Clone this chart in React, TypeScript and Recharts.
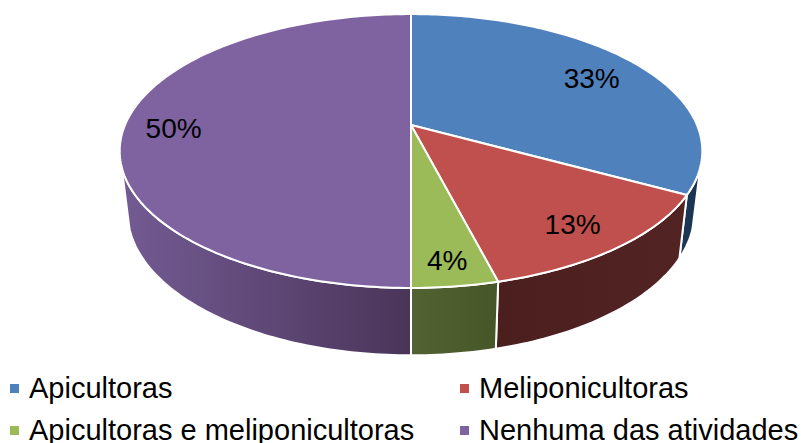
import { PieChart, Pie, Legend } from 'recharts';

const categories = ['Apicultoras', 'Meliponicultoras', 'Apicultoras e meliponicultoras', 'Nenhuma das atividades'];
const values = [33, 13, 4, 50];
const topColors = ['#4f81bd', '#c0504d', '#9bbb59', '#7f62a0'];
const wallColors = [
  ['#1e3757', '#1b3350'],
  ['#4c1f1f', '#522323'],
  ['#526232', '#465628'],
  ['#735b93', '#4a3559'],
];
// How far along its radius each percentage sits
const labelReach = [0.79, 0.81, 0.85, 0.83];

const rows = categories.map((name, i) => ({ name, value: values[i], fill: topColors[i], index: i }));

// Tilted-disc projection: unit circle point -> screen offset from the pie centre
const TILT = 0.19;
const SQUASH = 132 / 286;
const WALL_SCALE = 0.973;
const WALL_DROP = 60;
const WALL_SQUASH = 138 / 286;
// The side wall only shows on the near half of the rim
const WALL_FROM = 107.5;
const WALL_TO = 252.5;

const project = (deg: number, f: number, cx: number, cy: number, r: number) => {
  const t = (deg * Math.PI) / 180;
  const X = Math.sin(t) * f;
  const Y = -Math.cos(t) * f;
  const d = 1 - TILT * Y;
  return { x: cx + (r * X) / d, y: cy + (r * SQUASH * Y) / d };
};

const projectBase = (deg: number, cx: number, cy: number, r: number) => {
  const t = (deg * Math.PI) / 180;
  const X = Math.sin(t);
  const Y = -Math.cos(t);
  const d = 1 - TILT * Y;
  return { x: cx + (r * WALL_SCALE * X) / d, y: cy + WALL_DROP + (r * WALL_SQUASH * Y) / d };
};

const sweep = (from: number, to: number) => {
  const out: number[] = [];
  for (let a = from; a < to; a += 1) out.push(a);
  out.push(to);
  return out;
};

const toPath = (pts: { x: number; y: number }[]) =>
  pts.map((p, i) => `${i ? 'L' : 'M'}${p.x.toFixed(2)} ${p.y.toFixed(2)}`).join(' ') + ' Z';

function DiscSlice(props: any) {
  const { cx, cy, outerRadius, startAngle, endAngle, fill, index } = props;
  const from = 90 - startAngle;
  const to = 90 - endAngle;
  const wFrom = Math.max(from, WALL_FROM);
  const wTo = Math.min(to, WALL_TO);
  const gradId = `wall-${index}`;
  const top = [{ x: cx, y: cy }, ...sweep(from, to).map((a) => project(a, 1, cx, cy, outerRadius))];
  const wall =
    wTo > wFrom
      ? [
          ...sweep(wFrom, wTo).map((a) => project(a, 1, cx, cy, outerRadius)),
          ...sweep(wFrom, wTo).reverse().map((a) => projectBase(a, cx, cy, outerRadius)),
        ]
      : null;
  return (
    <g>
      <defs>
        <linearGradient id={gradId} x1="0" y1="0" x2="1" y2="0">
          <stop offset="0%" stopColor={wallColors[index][0]} />
          <stop offset="100%" stopColor={wallColors[index][1]} />
        </linearGradient>
      </defs>
      {wall && <path d={toPath(wall)} fill={`url(#${gradId})`} stroke="#fff" strokeWidth={2} strokeLinejoin="round" />}
      <path d={toPath(top)} fill={fill} stroke="#fff" strokeWidth={2} strokeLinejoin="round" />
    </g>
  );
}

const renderLabel = (props: any) => {
  const { cx, cy, outerRadius, midAngle, value, index } = props;
  const p = project(90 - midAngle, labelReach[index], cx, cy, outerRadius);
  return (
    <text
      x={p.x}
      y={p.y + 3}
      textAnchor="middle"
      dominantBaseline="central"
      fontFamily="'Liberation Sans', Arial, sans-serif"
      fontSize={28}
      fill="#000"
    >
      {`${value}%`}
    </text>
  );
};

function LegendGrid({ payload }: any) {
  return (
    <div
      style={{
        display: 'grid',
        gridTemplateColumns: '450px 343px',
        gridAutoRows: '42px',
        paddingLeft: 10,
        fontFamily: "'Liberation Sans', Arial, sans-serif",
        fontSize: 29,
        color: '#000',
        whiteSpace: 'nowrap',
      }}
    >
      {(payload || []).map((item: any) => (
        <div key={item.value} style={{ display: 'flex', alignItems: 'center' }}>
          <span style={{ width: 9, height: 9, marginRight: 10, background: item.color, flex: 'none' }} />
          <span>{item.value}</span>
        </div>
      ))}
    </div>
  );
}

export default function App() {
  return (
    <div style={{ position: 'fixed', left: 0, top: 0, width: 803, height: 443, overflow: 'hidden', background: '#fff' }}>
      <PieChart width={803} height={443} margin={{ top: 0, right: 0, bottom: 0, left: 0 }}>
        <Pie
          data={rows}
          dataKey="value"
          nameKey="name"
          cx={411}
          cy={125}
          innerRadius={0}
          outerRadius={286}
          startAngle={90}
          endAngle={-270}
          paddingAngle={0}
          label={renderLabel}
          labelLine={false}
          shape={DiscSlice}
          isAnimationActive={false}
        />
        <Legend content={<LegendGrid />} itemSorter={null} wrapperStyle={{ left: 0, top: 367, width: 803 }} />
      </PieChart>
    </div>
  );
}
